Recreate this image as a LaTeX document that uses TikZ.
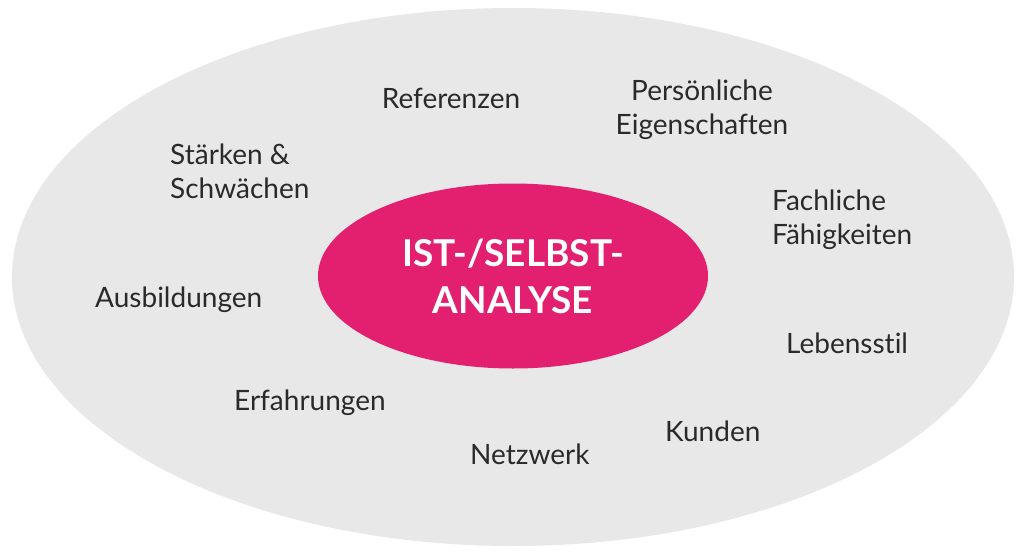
\documentclass[tikz,border=0pt]{standalone}
\usepackage{fontspec}
\setmainfont{Lato}[Ligatures=NoCommon]
\usetikzlibrary{shapes.geometric}
\definecolor{outergray}{HTML}{E8E8E8}
\definecolor{centerpink}{HTML}{E3206F}
\definecolor{labelgray}{HTML}{2A2A2A}
\tikzset{
  lbl/.style={font=\fontsize{28}{34}\selectfont, text=labelgray, inner sep=0pt},
  lblL/.style={lbl, align=left},
  lblC/.style={lbl, align=center},
}
\begin{document}
\begin{tikzpicture}[x=1pt,y=-1pt]
\useasboundingbox (0,0) rectangle (1024,551);
\fill[white] (0,0) rectangle (1024,551);
\node[ellipse, fill=outergray, minimum width=1002pt, minimum height=538pt, inner sep=0pt] (outer) at (513,277) {};
\node[ellipse, fill=centerpink, minimum width=390pt, minimum height=185pt, inner sep=0pt,
      text=white, font=\bfseries\fontsize{37}{47}\selectfont, align=center] (center) at (513,276) {IST-/SELBST-\\ANALYSE};
\node[lblC] (ref) at (451,98) {Referenzen};
\node[lblC] (pers) at (702,110) {Persönliche\\Eigenschaften};
\node[lblL, anchor=west] (staerken) at (170,171) {Stärken \&\\Schwächen};
\node[lblL, anchor=west] (fach) at (772,220) {Fachliche\\Fähigkeiten};
\node[lbl, anchor=west] (ausb) at (95,300) {Ausbildungen};
\node[lbl, anchor=west] (leben) at (786,343) {Lebensstil};
\node[lbl, anchor=west] (erf) at (234,403) {Erfahrungen};
\node[lbl, anchor=west] (kunden) at (665,431) {Kunden};
\node[lbl, anchor=west] (netz) at (470,454) {Netzwerk};
\end{tikzpicture}
\end{document}
